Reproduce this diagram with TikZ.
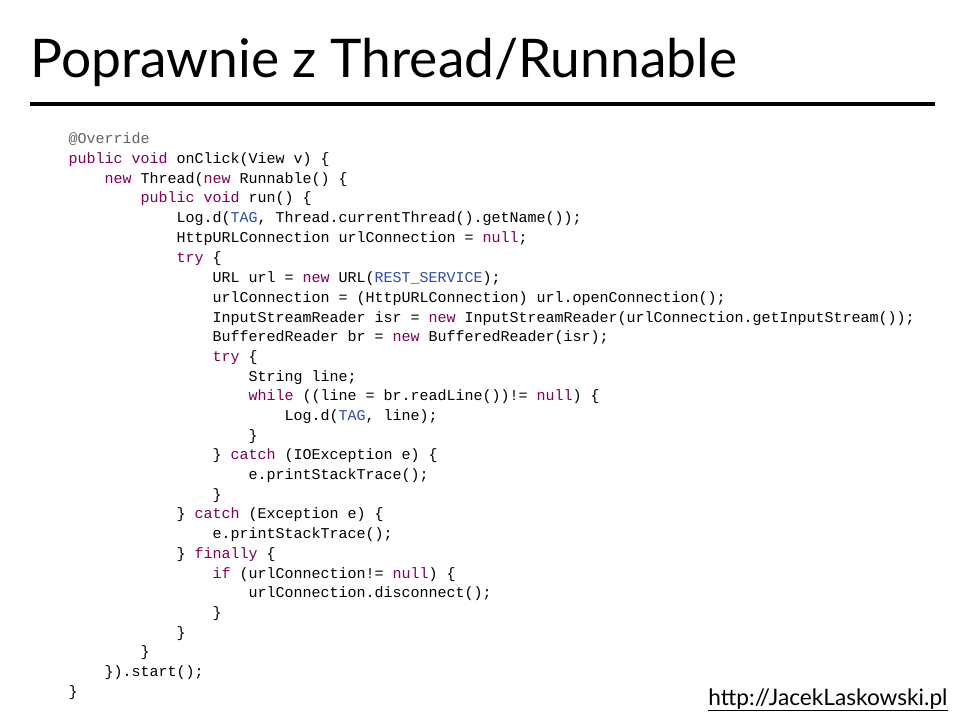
\documentclass[tikz,border=0pt]{standalone}
\usepackage{fontspec}
\setmainfont{Lato}
\newfontfamily\codefont{Liberation Mono}
\definecolor{kwcol}{RGB}{127,0,85}
\definecolor{constcol}{RGB}{42,76,176}
\definecolor{annocol}{RGB}{100,100,100}
\newcommand{\kw}[1]{\textcolor{kwcol}{#1}}
\newcommand{\cst}[1]{\textcolor{constcol}{#1}}
\tikzset{
	code/.style={anchor=base west, inner sep=0pt, font=\codefont\fontsize{11.25}{13}\selectfont},
	every picture/.style={line width=0.75pt}}

\begin{document}
\begin{tikzpicture}[x=0.75pt,y=0.75pt,yscale=-1,xscale=1]
	\useasboundingbox (0,0) rectangle (960,720);

	% Title
	\node[anchor=base west, inner sep=0pt, font=\fontsize{40}{44}\selectfont] (title) at (30,78) {Poprawnie z Thread/Runnable};
	\draw[line width=3pt] (30,104) -- (935,104);

	% Code
	\node[code] (l1) at (68,144) {\textcolor{annocol}{@Override}};
	\node[code] (l2) at (68,164) {\kw{public void} onClick(View v) \{};
	\node[code] (l3) at (104,184) {\kw{new} Thread(\kw{new} Runnable() \{};
	\node[code] (l4) at (140,203) {\kw{public void} run() \{};
	\node[code] (l5) at (176,223) {Log.d(\cst{TAG}, Thread.currentThread().getName());};
	\node[code] (l6) at (176,243) {HttpURLConnection urlConnection = \kw{null};};
	\node[code] (l7) at (176,263) {\kw{try} \{};
	\node[code] (l8) at (212,282) {URL url = \kw{new} URL(\cst{REST\_SERVICE});};
	\node[code] (l9) at (212,302) {urlConnection = (HttpURLConnection) url.openConnection();};
	\node[code] (l10) at (212,322) {InputStreamReader isr = \kw{new} InputStreamReader(urlConnection.getInputStream());};
	\node[code] (l11) at (212,341) {BufferedReader br = \kw{new} BufferedReader(isr);};
	\node[code] (l12) at (212,361) {\kw{try} \{};
	\node[code] (l13) at (248,381) {String line;};
	\node[code] (l14) at (248,400) {\kw{while} ((line = br.readLine())!= \kw{null}) \{};
	\node[code] (l15) at (284,420) {Log.d(\cst{TAG}, line);};
	\node[code] (l16) at (248,440) {\}};
	\node[code] (l17) at (212,459) {\} \kw{catch} (IOException e) \{};
	\node[code] (l18) at (248,479) {e.printStackTrace();};
	\node[code] (l19) at (212,499) {\}};
	\node[code] (l20) at (176,518) {\} \kw{catch} (Exception e) \{};
	\node[code] (l21) at (212,538) {e.printStackTrace();};
	\node[code] (l22) at (176,558) {\} \kw{finally} \{};
	\node[code] (l23) at (212,578) {\kw{if} (urlConnection!= \kw{null}) \{};
	\node[code] (l24) at (248,597) {urlConnection.disconnect();};
	\node[code] (l25) at (212,617) {\}};
	\node[code] (l26) at (176,637) {\}};
	\node[code] (l27) at (140,656) {\}};
	\node[code] (l28) at (104,676) {\}).start();};
	\node[code] (l29) at (68,696) {\}};

	% Footer
	\node[anchor=base east, inner sep=0pt, font=\fontsize{17}{19}\selectfont] (url) at (948,705) {\underline{http://JacekLaskowski.pl}};
\end{tikzpicture}
\end{document}
